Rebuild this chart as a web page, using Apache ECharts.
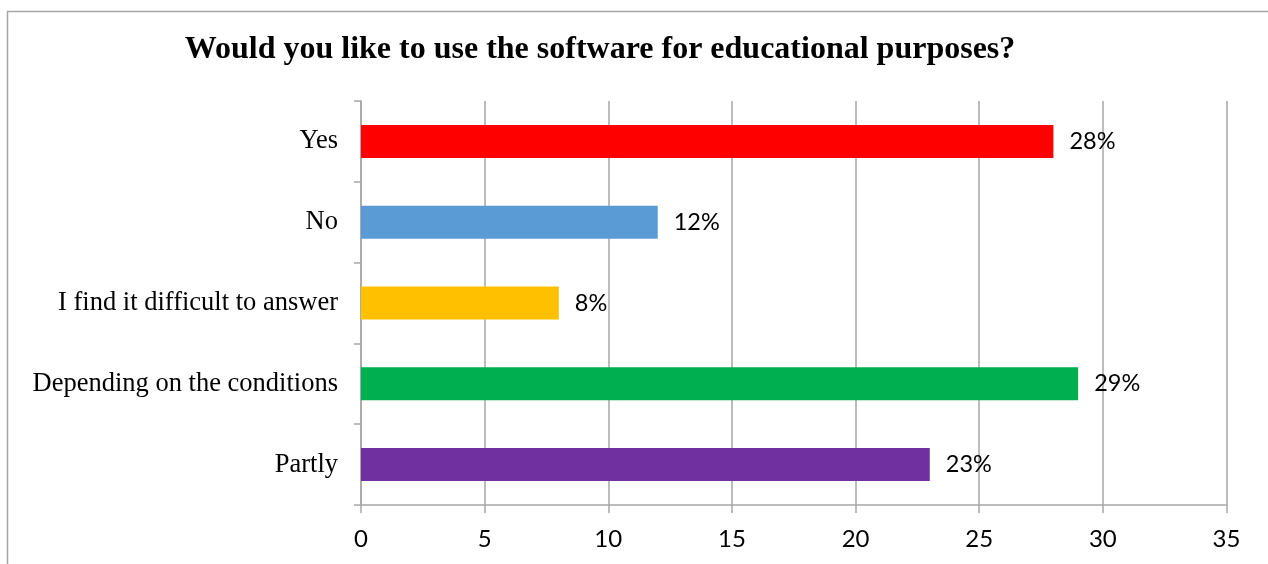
<!DOCTYPE html>
<html>
<head>
<meta charset="utf-8">
<script src="https://cdn.jsdelivr.net/npm/echarts@6/dist/echarts.min.js"></script>
<style>html,body{margin:0;padding:0;background:#fff;}#c{width:1268px;height:564px;}</style>
</head>
<body>
<div id="c"></div>
<script>
const titleText = 'Would you like to use the software for educational purposes?';
const categories = ['Yes', 'No', 'I find it difficult to answer', 'Depending on the conditions', 'Partly'];
const values = [28, 12, 8, 29, 23];
const labels = ['28%', '12%', '8%', '29%', '23%'];
const colors = ['#FF0000', '#5B9BD5', '#FFC000', '#00B050', '#7030A0'];
const xTicks = [0, 5, 10, 15, 20, 25, 30, 35];

const chart = echarts.init(document.getElementById('c'), null, {renderer: 'canvas'});
chart.setOption({
  animation: false,
  backgroundColor: '#fff',
  graphic: [{
    type: 'rect', shape: {x: 7.5, y: 11.5, width: 1400, height: 700},
    style: {fill: 'none', stroke: '#a6a6a6', lineWidth: 1.5}, silent: true
  }],
  title: {
    text: titleText, left: 595, top: 29, textAlign: 'center',
    textStyle: {fontFamily: 'Liberation Serif', fontWeight: 'bold', fontSize: 32, color: '#000'}
  },
  grid: {left: 361, right: 41.5, top: 101, bottom: 59, containLabel: false},
  xAxis: {
    type: 'value', min: xTicks[0], max: xTicks[xTicks.length - 1], interval: 5,
    axisLine: {show: true, lineStyle: {color: '#a6a6a6', width: 1.5}},
    axisTick: {show: true, length: 8, lineStyle: {color: '#a6a6a6', width: 1.5}},
    splitLine: {show: true, lineStyle: {color: '#a6a6a6', width: 1.5}},
    axisLabel: {margin: 22, fontFamily: 'Lato', fontSize: 24, color: '#000'}
  },
  yAxis: {
    type: 'category', data: categories, inverse: true,
    axisLine: {show: true, lineStyle: {color: '#a6a6a6', width: 1.5}},
    axisTick: {show: true, length: 7, lineStyle: {color: '#a6a6a6', width: 1.5}},
    axisLabel: {margin: 23, fontFamily: 'Liberation Serif', fontSize: 26.5, color: '#000'}
  },
  series: [{
    type: 'bar', barWidth: 33,
    data: values.map((v, i) => ({value: v, itemStyle: {color: colors[i]}})),
    label: {
      show: true, position: 'right', distance: 16,
      formatter: p => labels[p.dataIndex],
      fontFamily: 'Lato', fontSize: 23.5, color: '#000'
    }
  }]
});
</script>
</body>
</html>
